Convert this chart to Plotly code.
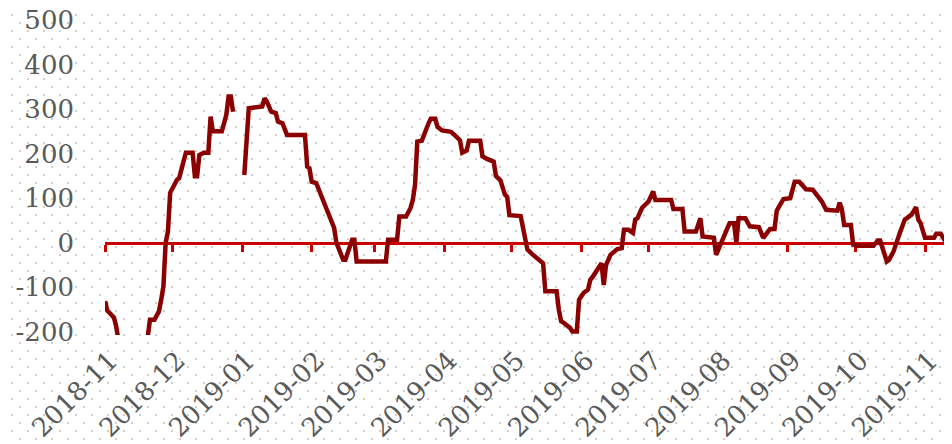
import base64
import plotly.graph_objects as go

# spread series (None = no data over new year)
dates = [
    "2018-11-01", "2018-11-02", "2018-11-03", "2018-11-05", "2018-11-06", "2018-11-07",
    "2018-11-12", "2018-11-16", "2018-11-20", "2018-11-21", "2018-11-23", "2018-11-25",
    "2018-11-26", "2018-11-27", "2018-11-28", "2018-11-29", "2018-11-30", "2018-12-01",
    "2018-12-03", "2018-12-04", "2018-12-06", "2018-12-07", "2018-12-10", "2018-12-11",
    "2018-12-12", "2018-12-13", "2018-12-15", "2018-12-17", "2018-12-18", "2018-12-19",
    "2018-12-23", "2018-12-25", "2018-12-26", "2018-12-27", "2018-12-28", "2018-12-31",
    "2019-01-02", "2019-01-03", "2019-01-04", "2019-01-10", "2019-01-11", "2019-01-12",
    "2019-01-14", "2019-01-16", "2019-01-17", "2019-01-19", "2019-01-21", "2019-01-29",
    "2019-01-30", "2019-01-31", "2019-02-01", "2019-02-03", "2019-02-11", "2019-02-12",
    "2019-02-15", "2019-02-16", "2019-02-19", "2019-02-20", "2019-02-21", "2019-03-06",
    "2019-03-07", "2019-03-11", "2019-03-12", "2019-03-15", "2019-03-17", "2019-03-18",
    "2019-03-19", "2019-03-20", "2019-03-22", "2019-03-25", "2019-03-26", "2019-03-28",
    "2019-03-29", "2019-03-31", "2019-04-04", "2019-04-06", "2019-04-08", "2019-04-09",
    "2019-04-11", "2019-04-12", "2019-04-17", "2019-04-18", "2019-04-20", "2019-04-23",
    "2019-04-24", "2019-04-26", "2019-04-28", "2019-04-29", "2019-04-30", "2019-05-05",
    "2019-05-08", "2019-05-10", "2019-05-13", "2019-05-15", "2019-05-16", "2019-05-21",
    "2019-05-22", "2019-05-23", "2019-05-24", "2019-05-27", "2019-05-28", "2019-05-30",
    "2019-05-31", "2019-06-02", "2019-06-04", "2019-06-05", "2019-06-06", "2019-06-10",
    "2019-06-11", "2019-06-12", "2019-06-14", "2019-06-17", "2019-06-19", "2019-06-20",
    "2019-06-22", "2019-06-24", "2019-06-25", "2019-06-26", "2019-06-28", "2019-06-30",
    "2019-07-01", "2019-07-03", "2019-07-04", "2019-07-11", "2019-07-12", "2019-07-16",
    "2019-07-17", "2019-07-22", "2019-07-24", "2019-07-25", "2019-07-29", "2019-07-30",
    "2019-07-31", "2019-08-01", "2019-08-04", "2019-08-06", "2019-08-08", "2019-08-09",
    "2019-08-10", "2019-08-13", "2019-08-15", "2019-08-19", "2019-08-21", "2019-08-23",
    "2019-08-24", "2019-08-26", "2019-08-27", "2019-08-28", "2019-08-30", "2019-09-02",
    "2019-09-04", "2019-09-06", "2019-09-09", "2019-09-12", "2019-09-16", "2019-09-18",
    "2019-09-23", "2019-09-24", "2019-09-25", "2019-09-26", "2019-09-29", "2019-09-30",
    "2019-10-02", "2019-10-09", "2019-10-11", "2019-10-12", "2019-10-15", "2019-10-16",
    "2019-10-18", "2019-10-21", "2019-10-23", "2019-10-26", "2019-10-28", "2019-10-29",
    "2019-10-30", "2019-11-01", "2019-11-05", "2019-11-06", "2019-11-08", "2019-11-11",
    "2019-11-13",
]
spread = [
    -131, -152, -157, -168, -188, -220,
    -245, -240, -212, -173, -173, -154,
    -128, -98, 0, 25, 112, 123,
    141, 145, 190, 202, 202, 149,
    149, 197, 202, 202, 283, 250,
    250, 287, 328, 328, 294, None,
    152, 216, 302, 306, 324, 317,
    294, 291, 272, 268, 242, 242,
    171, 167, 137, 134, 33, 0,
    -38, -38, 7, 7, -42, -42,
    7, 7, 59, 59, 78, 96,
    130, 227, 229, 268, 278, 278,
    260, 252, 249, 240, 230, 202,
    207, 229, 229, 194, 188, 182,
    150, 140, 108, 103, 62, 60,
    -15, -25, -38, -46, -109, -109,
    -150, -176, -179, -191, -199, -199,
    -128, -113, -105, -83, -77, -46,
    -95, -50, -27, -14, -12, 29,
    29, 22, 52, 55, 78, 88,
    93, 115, 96, 96, 76, 76,
    25, 25, 55, 14, 11, 11,
    -27, -16, 22, 44, 44, 0,
    55, 55, 37, 35, 11, 25,
    31, 31, 72, 81, 98, 100,
    137, 137, 120, 119, 93, 74,
    72, 90, 74, 40, 40, -4,
    -7, -7, 5, 5, -42, -38,
    -19, 25, 52, 63, 80, 52,
    44, 11, 11, 20, 20, -4,
    7,
]

y_ticks = [-200, -100, 0, 100, 200, 300, 400, 500]
y_ticktext = ["-200", "-100", "0", "100", "200", "300", "400", "500"]

x_range = ["2018-11-01", "2019-11-13"]
y_range = [-207, 520]

# page body has an 8px margin, so the figure is a bit smaller than the window
W, H = 944, 436
ML, MR, MT, MB = 97, 0, 3, 109
PW, PH = W - ML - MR, H - MT - MB

# dotted page background as an svg tile pattern
svg = (
    f'<svg xmlns="http://www.w3.org/2000/svg" width="{W}" height="{H}">'
    '<defs><pattern id="p" width="16" height="16" patternUnits="userSpaceOnUse">'
    '<rect x="3" y="6" width="2" height="2" fill="#cfcfcf"/>'
    '<rect x="11" y="14" width="2" height="2" fill="#cfcfcf"/>'
    '</pattern></defs>'
    f'<rect width="{W}" height="{H}" fill="url(#p)"/></svg>'
)
bg_src = "data:image/svg+xml;base64," + base64.b64encode(svg.encode()).decode()

font = dict(family="DejaVu Serif", size=26, color="#595959")

fig = go.Figure()
fig.add_trace(go.Scatter(
    x=dates, y=spread, mode="lines",
    line=dict(color="#8b0000", width=4.5),
    connectgaps=False, showlegend=False,
))
# empty trace so the zero-line axis gets drawn
fig.add_trace(go.Scatter(x=[], y=[], xaxis="x2", showlegend=False))

fig.update_layout(
    width=W, height=H,
    margin=dict(l=ML, r=MR, t=MT, b=MB, autoexpand=False),
    paper_bgcolor="white",
    plot_bgcolor="rgba(0,0,0,0)",
    font=font,
    images=[dict(
        source=bg_src, xref="paper", yref="paper",
        x=-ML / PW, y=1 + MT / PH, sizex=W / PW, sizey=H / PH,
        xanchor="left", yanchor="top", sizing="stretch", layer="below",
    )],
    xaxis=dict(
        type="date", range=x_range, dtick="M1", tick0="2018-11-01",
        tickformat="%Y-%m", tickangle=-45, showgrid=False, zeroline=False,
        showline=False, ticks="", ticklabelstandoff=4, ticklabelshift=5,
        ticklabeloverflow="allow", tickfont=font, automargin=False,
    ),
    xaxis2=dict(
        type="date", range=x_range, overlaying="x", anchor="free",
        position=(0 - y_range[0]) / (y_range[1] - y_range[0]),
        dtick="M1", tick0="2018-11-01", showticklabels=False,
        showline=True, linecolor="#cc0000", linewidth=3,
        ticks="outside", ticklen=7, tickwidth=3, tickcolor="#cc0000",
        showgrid=False, zeroline=False, layer="below traces", automargin=False,
    ),
    yaxis=dict(
        range=y_range, tickmode="array", tickvals=y_ticks, ticktext=y_ticktext,
        showgrid=False, zeroline=False, showline=False, ticks="",
        ticklabelstandoff=30, ticklabeloverflow="allow", tickfont=font,
        automargin=False,
    ),
)

fig.write_html("out.html")
